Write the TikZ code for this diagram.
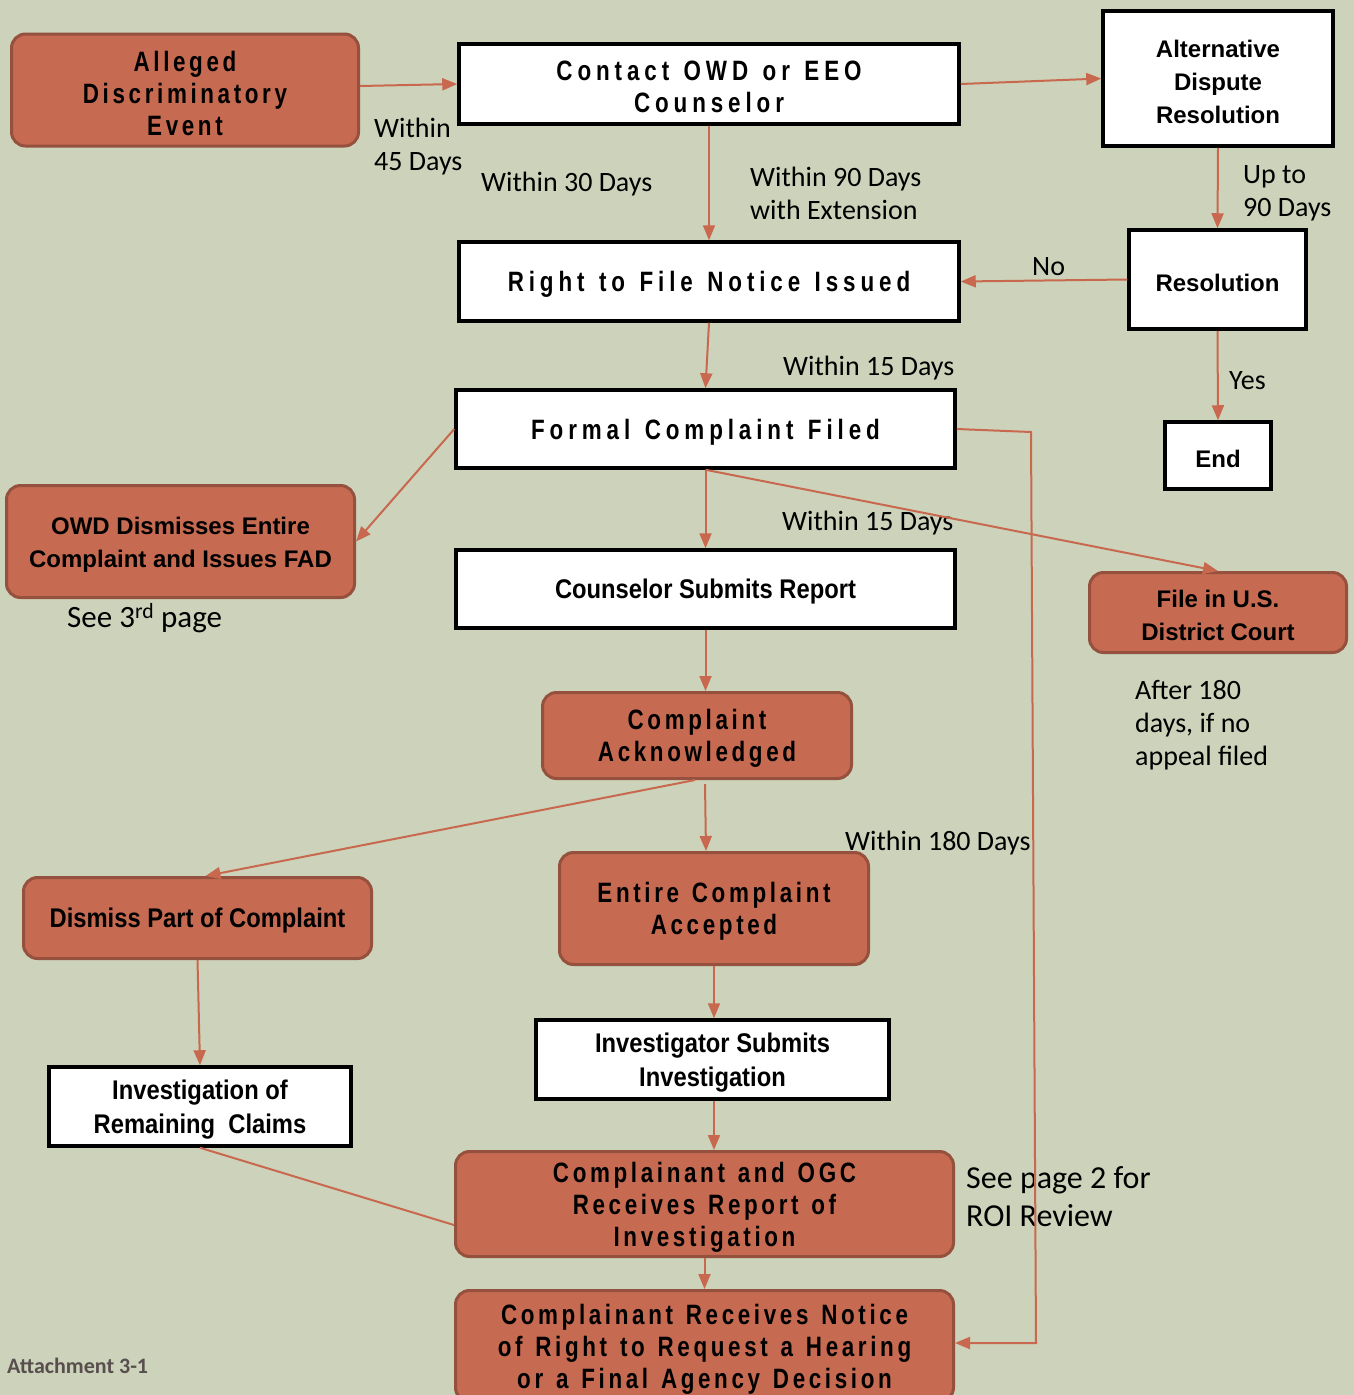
\documentclass[tikz,border=0pt]{standalone}
\usepackage{fontspec}
\setmainfont{Carlito}
\newfontfamily\bsans{Liberation Sans}
\newfontfamily\condf[FakeStretch=0.88]{Liberation Sans}
\newfontfamily\spA[FakeStretch=0.8,LetterSpace=17.5,WordSpace=1.3]{Liberation Sans}
\newfontfamily\spB[FakeStretch=0.8,LetterSpace=13,WordSpace=1.3]{Liberation Sans}
\usetikzlibrary{arrows.meta}
\definecolor{bg}{RGB}{204,211,186}
\definecolor{boxfill}{RGB}{198,106,81}
\definecolor{boxline}{RGB}{150,80,62}
\definecolor{conn}{RGB}{200,104,78}
\definecolor{attc}{RGB}{88,78,78}
\begin{document}
\begin{tikzpicture}[x=1pt,y=-1pt,
 wbox/.style={draw=black,line width=3.5pt,fill=white,inner sep=0pt},
 rbox/.style={draw=boxline,line width=3pt,fill=boxfill,rounded corners=14pt,inner sep=0pt},
 lbl/.style={inner sep=0pt,anchor=west,align=left,font=\fontsize{28}{33}\selectfont},
 arr/.style={draw=conn,line width=2pt,-{Triangle[length=15pt,width=12pt]}},
 ln/.style={draw=conn,line width=2pt},
 txt/.style={inner sep=0pt,align=center,yshift=-3pt},
 fA/.style={txt,font=\spA\bfseries\fontsize{28}{32.5}\selectfont},
 fB/.style={txt,font=\spB\bfseries\fontsize{28}{32}\selectfont},
 fT/.style={txt,font=\bsans\bfseries\fontsize{24}{33}\selectfont},
 fC/.style={txt,font=\condf\bfseries\fontsize{27}{34}\selectfont},
]
\fill[bg] (0,0) rectangle (1354,1395);
\useasboundingbox (0,0) rectangle (1354,1395);

% boxes
\node[rbox,minimum width=347pt,minimum height=112pt,label={[fB]center:{Alleged\\Discriminatory\\Event}}] (alleged) at (185,90) {};
\node[wbox,minimum width=500pt,minimum height=80pt,label={[fA]center:{Contact OWD or EEO\\Counselor}}] (contact) at (709,84) {};
\node[wbox,minimum width=230pt,minimum height=135pt,label={[fT]center:{Alternative\\Dispute\\Resolution}}] (adr) at (1218,78.5) {};
\node[wbox,minimum width=500pt,minimum height=79pt,label={[fA]center:{Right to File Notice Issued}}] (rtf) at (709,281.5) {};
\node[wbox,minimum width=177pt,minimum height=99pt,label={[fT]center:{Resolution}}] (resol) at (1217.5,279.5) {};
\node[wbox,minimum width=106pt,minimum height=67pt,label={[fT]center:{End}}] (end) at (1218,455.5) {};
\node[wbox,minimum width=499pt,minimum height=78pt,label={[fA]center:{Formal Complaint Filed}}] (fcf) at (705.5,429) {};
\node[rbox,minimum width=348pt,minimum height=112pt,label={[fT]center:{OWD Dismisses Entire\\Complaint and Issues FAD}}] (owd) at (180.5,541.5) {};
\node[wbox,minimum width=499pt,minimum height=78pt,label={[fC]center:{Counselor Submits Report}}] (couns) at (705.5,589) {};
\node[rbox,minimum width=257pt,minimum height=80pt,label={[fT]center:{File in U.S.\\District Court}}] (fileus) at (1218,612.5) {};
\node[rbox,minimum width=309pt,minimum height=86pt,label={[fB]center:{Complaint\\Acknowledged}}] (ack) at (697,735.5) {};
\node[rbox,minimum width=348pt,minimum height=81pt,label={[fC]center:{Dismiss Part of Complaint}}] (dispart) at (197.5,918) {};
\node[rbox,minimum width=309pt,minimum height=112pt,label={[fB]center:{Entire Complaint\\Accepted}}] (entire) at (714,908.5) {};
\node[wbox,minimum width=353pt,minimum height=79pt,label={[fC]center:{Investigator Submits\\Investigation}}] (invest) at (712.5,1059.5) {};
\node[wbox,minimum width=302pt,minimum height=79pt,label={[fC]center:{Investigation of\\Remaining~ Claims}}] (invrem) at (200,1106.5) {};
\node[rbox,minimum width=498pt,minimum height=105pt,label={[fB]center:{Complainant and OGC\\Receives Report of\\Investigation}}] (ogc) at (704.5,1204) {};
\node[rbox,minimum width=498pt,minimum height=111pt,label={[fB]center:{Complainant Receives Notice\\of Right to Request a Hearing\\or a Final Agency Decision}}] (notice) at (704.5,1346) {};

% labels
\node[lbl] (l45) at (374,146.5) {Within\\45 Days};
\node[lbl] (l30) at (481,184.5) {Within 30 Days};
\node[lbl] (l90) at (750,193.5) {Within 90 Days\\with Extension};
\node[lbl] (lup) at (1243,193) {Up to\\90 Days};
\node[lbl] (lno) at (1032,266.5) {No};
\node[lbl] (lyes) at (1229,380.5) {Yes};
\node[lbl] (l15a) at (783,368.5) {Within 15 Days};
\node[lbl] (l15b) at (782,523.5) {Within 15 Days};
\node[lbl,font=\fontsize{31}{36}\selectfont] (l3rd) at (67,618) {See 3\textsuperscript{rd} page};
\node[lbl] (l180a) at (1135,725.5) {After 180\\days, if no\\appeal filed};
\node[lbl] (l180) at (845,843.5) {Within 180 Days};
\node[lbl,font=\fontsize{32}{38}\selectfont] (lp2) at (966,1197) {See page 2 for\\ROI Review};
\node[lbl,font=\bfseries\fontsize{22}{26}\selectfont,text=attc] (att) at (7,1366) {Attachment 3-1};

% connectors
\coordinate (b1) at (1031,432);
\coordinate (b2) at (1036,1343);
\draw[arr] ([yshift=4pt]alleged.east) -- (contact.west);
\draw[arr] (contact.east) -- (adr.west);
\draw[arr] (contact.south) -- (rtf.north);
\draw[arr] (adr.south) -- (resol.north);
\draw[arr] (resol.west) -- (rtf.east);
\draw[arr] (resol.south) -- (end.north);
\draw[arr] (rtf.south) -- (fcf.north);
\draw[arr] (fcf.west) -- (owd.east);
\draw[arr] (fcf.south) -- (couns.north);
\draw[arr] (fcf.south) -- (fileus.north);
\draw[arr] (fcf.east) -- (b1) -- (b2) -- ([yshift=3pt]notice.east);
\draw[arr] (couns.south) -- (couns.south |- ack.north);
\draw[arr] ([xshift=-2pt]ack.south) -- ([xshift=8pt]dispart.north);
\draw[arr] ([xshift=8pt,yshift=-4pt]ack.south) -- ([xshift=-8pt]entire.north);
\draw[arr] (dispart.south) -- (invrem.north);
\draw[arr] (entire.south) -- (entire.south |- invest.north);
\draw[ln] (invrem.south) -- ([yshift=-21pt]ogc.west);
\draw[arr] ([xshift=1.5pt]invest.south) -- ([xshift=9.5pt]ogc.north);
\draw[arr] (ogc.south) -- (notice.north);
\end{tikzpicture}
\end{document}
